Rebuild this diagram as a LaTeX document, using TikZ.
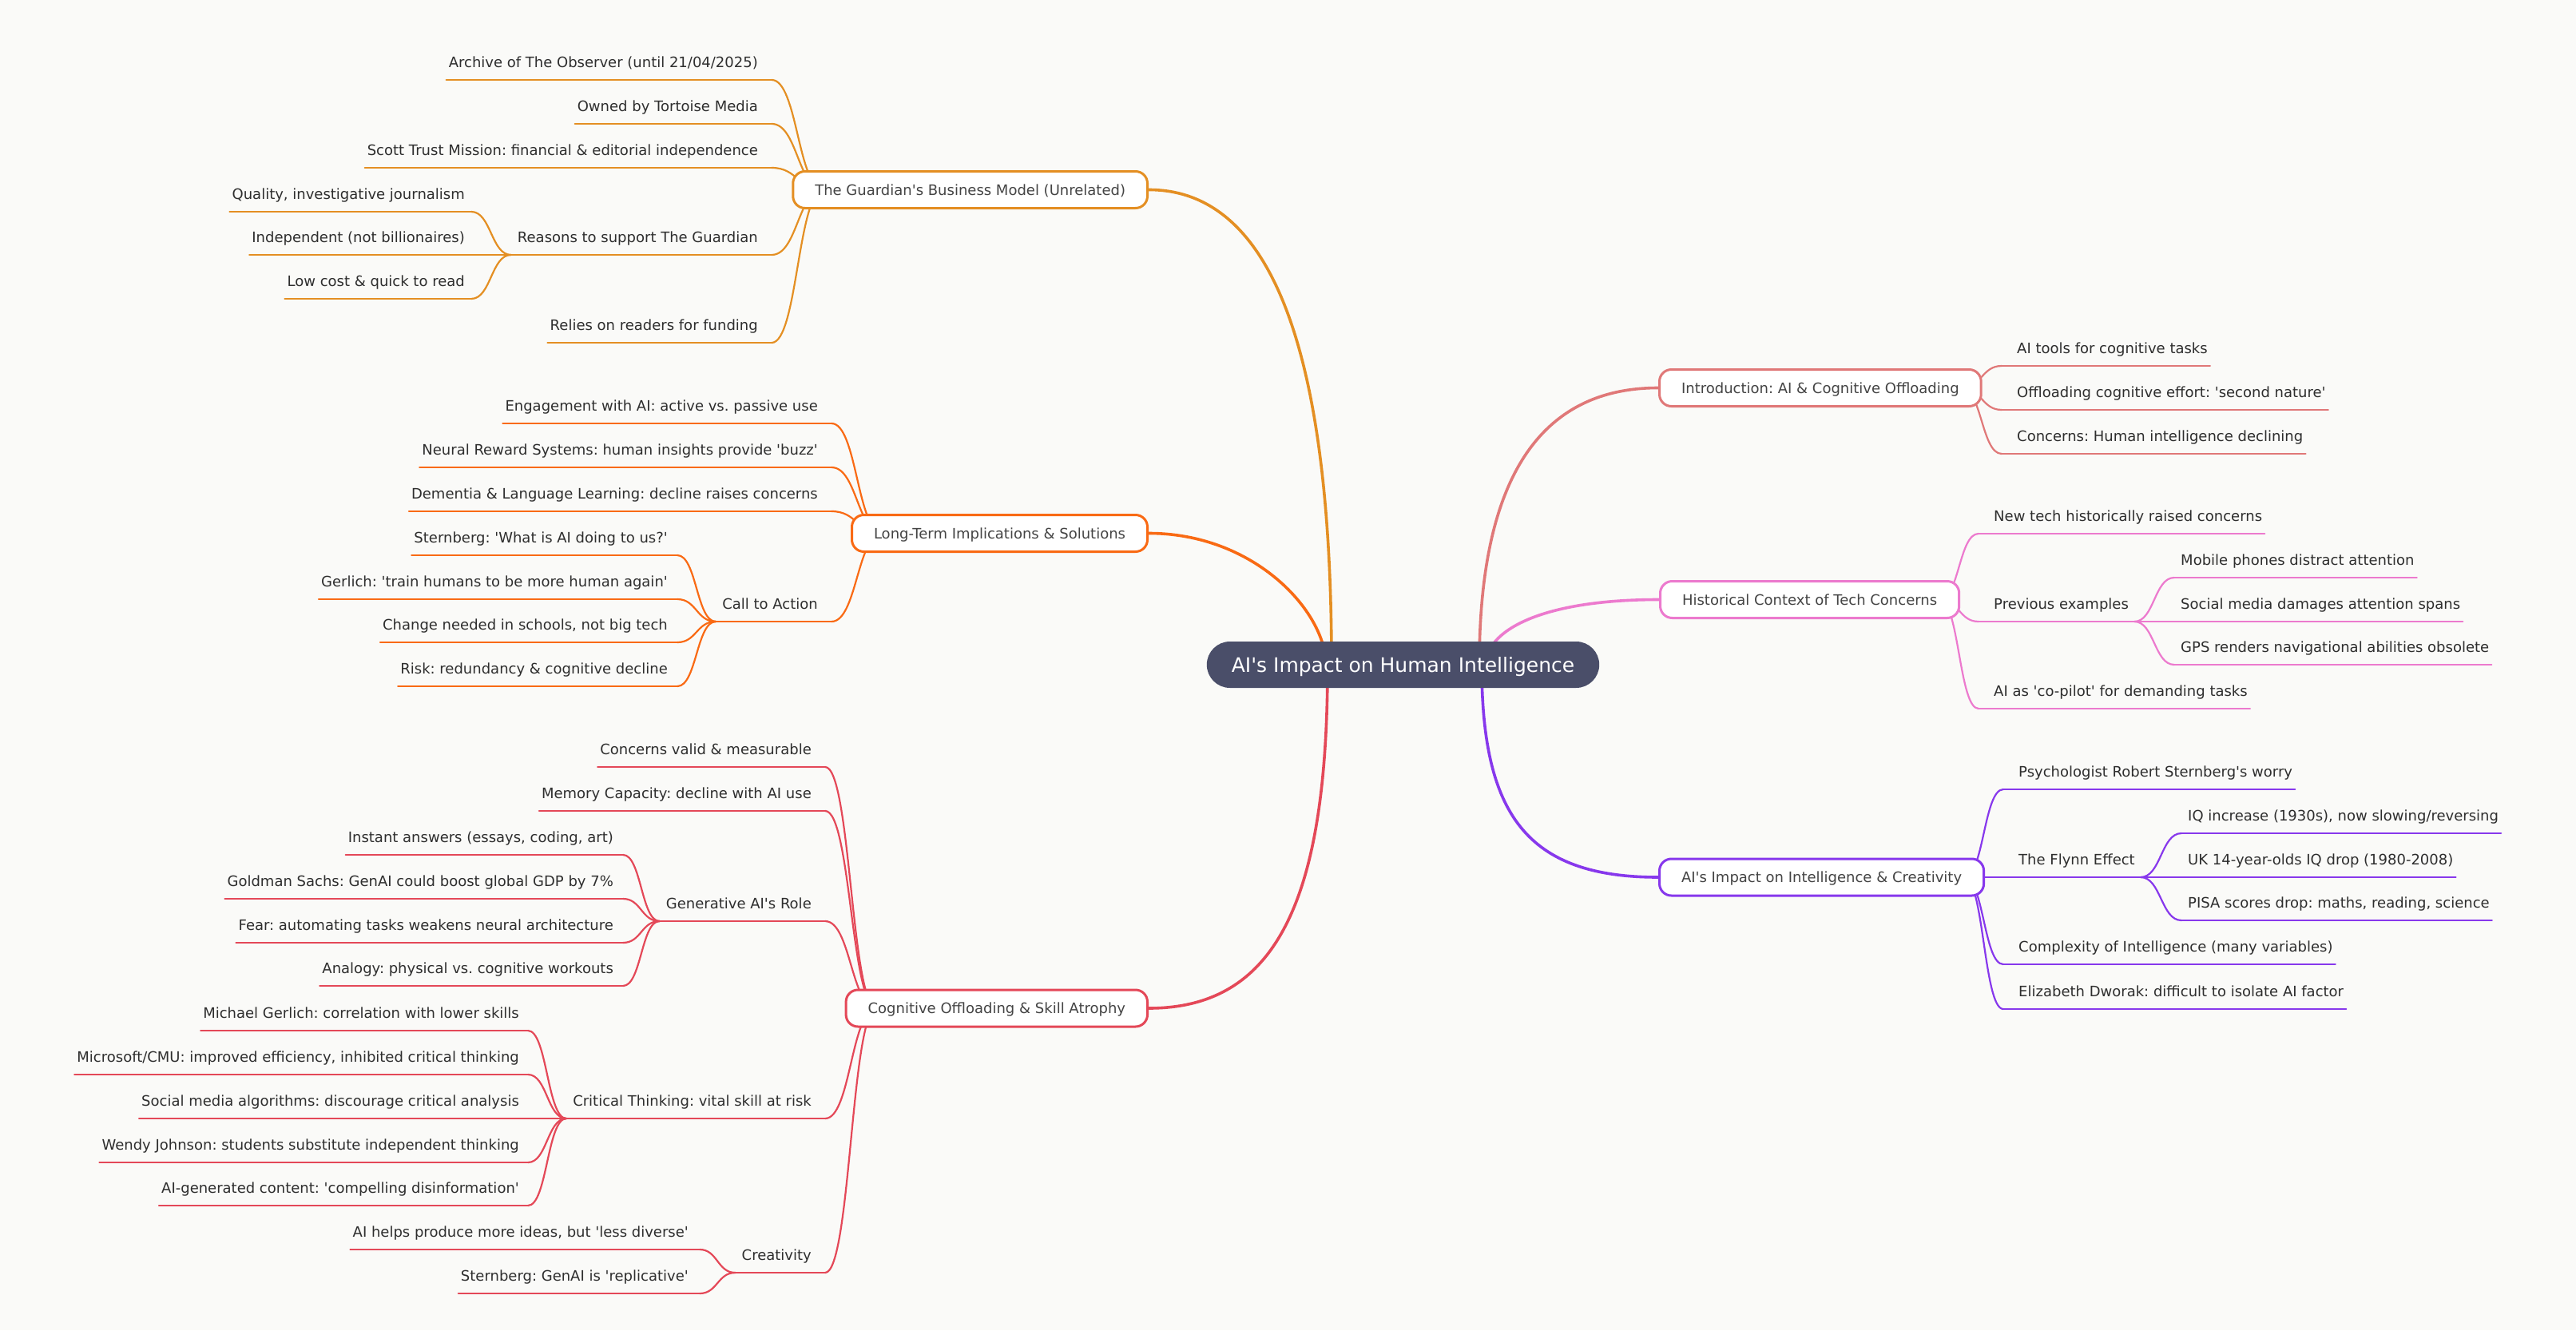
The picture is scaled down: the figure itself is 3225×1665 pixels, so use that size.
\documentclass[tikz,border=0pt]{standalone}
\usepackage{fontspec}
\newfontfamily\dejavu{DejaVu Sans}
\usetikzlibrary{calc}
\definecolor{bgcol}{HTML}{FAFAF8}
\definecolor{rootcol}{HTML}{4A4E69}
\definecolor{gcol}{HTML}{E48F23}
\definecolor{lcol}{HTML}{F96A14}
\definecolor{ccol}{HTML}{E44858}
\definecolor{icol}{HTML}{E07878}
\definecolor{hcol}{HTML}{EC7ACE}
\definecolor{acol}{HTML}{8738EC}
\definecolor{leaftext}{HTML}{2E2E2E}
\definecolor{branchtext}{HTML}{444444}
\pgfdeclarelayer{bg}
\pgfdeclarelayer{lk}
\pgfsetlayers{bg,lk,main}
\frenchspacing
\tikzset{
  leaf/.style={inner sep=0pt, font=\dejavu\fontsize{18}{22}\selectfont\frenchspacing, text=leaftext},
  branch/.style={draw=#1, line width=3pt, fill=white, rounded corners=15pt,
    minimum height=46pt, inner xsep=27.5pt, inner ysep=0pt, text height=13pt, text depth=0pt,
    text=branchtext, font=\dejavu\fontsize{18}{22}\selectfont\frenchspacing},
  rootnode/.style={fill=rootcol, rounded corners=29pt, minimum height=58pt, inner xsep=31pt,
    inner ysep=0pt, text height=18.2pt, text depth=0pt, text=white,
    font=\dejavu\fontsize{25}{30}\selectfont\frenchspacing},
  leafline/.style={line width=2.2pt, line cap=round, line join=round},
  rootline/.style={line width=3.6pt, line cap=round},
}
% root-to-branch link: vertical at root, horizontal at branch
\newcommand\rlink[5]{\draw[rootline,#1] let \p1=(#2), \p2=(#3) in (\p1) .. controls (\x1,{\y1+#4*(\y2-\y1)}) and ({\x2-#5*(\x2-\x1)},\y2) .. (\p2);}
% horizontal S-link
\newcommand\hlink[3]{\draw[leafline,#1] let \p1=(#2), \p2=(#3) in (\p1) .. controls ({0.5*(\x1+\x2)},\y1) and ({0.5*(\x1+\x2)},\y2) .. (\p2);}
% left leaf: name, colour, source, line x, text right x, line y, text
\newcommand\leafL[7]{%
  \coordinate (#1-a) at (#4,#6);
  \node[leaf,anchor=base east] (#1) at (#5,#6-16) {#7};
  \begin{pgfonlayer}{lk}
  \hlink{#2}{#3}{#1-a}
  \draw[leafline,#2] (#1-a) -- (#1.west |- #1-a) -- ++(-3,0);
  \end{pgfonlayer}}
\newcommand\midL[7]{%
  \coordinate (#1-a) at (#4,#6);
  \node[leaf,anchor=base east] (#1) at (#5,#6-16) {#7};
  \path (#1.west |- #1-a) ++(-8,0) coordinate (#1-b);
  \begin{pgfonlayer}{lk}
  \hlink{#2}{#3}{#1-a}
  \draw[leafline,#2] (#1-a) -- (#1-b);
  \end{pgfonlayer}}
\newcommand\leafR[7]{%
  \coordinate (#1-a) at (#4,#6);
  \node[leaf,anchor=base west] (#1) at (#5,#6-16) {#7};
  \begin{pgfonlayer}{lk}
  \hlink{#2}{#3}{#1-a}
  \draw[leafline,#2] (#1-a) -- (#1.east |- #1-a) -- ++(3,0);
  \end{pgfonlayer}}
\newcommand\midR[7]{%
  \coordinate (#1-a) at (#4,#6);
  \node[leaf,anchor=base west] (#1) at (#5,#6-16) {#7};
  \path (#1.east |- #1-a) ++(7,0) coordinate (#1-b);
  \begin{pgfonlayer}{lk}
  \hlink{#2}{#3}{#1-a}
  \draw[leafline,#2] (#1-a) -- (#1-b);
  \end{pgfonlayer}}
\begin{document}
\begin{tikzpicture}[x=1pt,y=-1pt]
\begin{pgfonlayer}{bg}
\fill[bgcol] (0,0) rectangle (3225,1665);
\end{pgfonlayer}
\useasboundingbox (0,0) rectangle (3225,1665);

\node[rootnode] (root) at (1756.5,832) {AI's Impact on Human Intelligence};

\node[branch=gcol, anchor=east] (G) at (1438,237.5) {The Guardian's Business Model (Unrelated)};
\node[branch=lcol, anchor=east] (L) at (1438,667.5) {Long-Term Implications \& Solutions};
\node[branch=ccol, anchor=east] (C) at (1438,1262) {Cognitive Offloading \& Skill Atrophy};
\node[branch=icol, anchor=west] (I) at (2076,485.5) {Introduction: AI \& Cognitive Offloading};
\node[branch=hcol, anchor=west] (H) at (2077,750.5) {Historical Context of Tech Concerns};
\node[branch=acol, anchor=west] (A) at (2076,1098) {AI's Impact on Intelligence \& Creativity};

\coordinate (rG) at (1667,832);
\coordinate (rL) at (1660,832);
\coordinate (rC) at (1662,832);
\coordinate (rI) at (1852,832);
\coordinate (rH) at (1860,832);
\coordinate (rA) at (1855,832);

\begin{pgfonlayer}{lk}
\rlink{gcol}{rG}{G.east}{0.667}{0.667}
\rlink{lcol}{rL}{L.east}{0.4}{0.6}
\rlink{ccol}{rC}{C.east}{0.7}{0.7}
\rlink{icol}{rI}{I.west}{0.667}{0.667}
\rlink{hcol}{rH}{H.west}{0.5}{0.7}
\rlink{acol}{rA}{A.west}{0.7}{0.75}
\end{pgfonlayer}

\path (G.west) ++(40,0) coordinate (Gs);
\path (L.west) ++(40,0) coordinate (Ls);
\path (C.west) ++(40,0) coordinate (Cs);
\path (I.east) ++(-26,0) coordinate (Is);
\path (H.east) ++(-26,0) coordinate (Hs);
\path (A.east) ++(-26,0) coordinate (As);

% The Guardian
\leafL{g1}{gcol}{Gs}{966}{949}{100}{Archive of The Observer (until 21/04/2025)}
\leafL{g2}{gcol}{Gs}{966}{949}{155}{Owned by Tortoise Media}
\leafL{g3}{gcol}{Gs}{966}{949}{210}{Scott Trust Mission: financial \& editorial independence}
\midL{g4}{gcol}{Gs}{966}{949}{319}{Reasons to support The Guardian}
\leafL{g41}{gcol}{g4-b}{590}{582}{265}{Quality, investigative journalism}
\leafL{g42}{gcol}{g4-b}{590}{582}{319}{Independent (not billionaires)}
\leafL{g43}{gcol}{g4-b}{590}{582}{374}{Low cost \& quick to read}
\leafL{g5}{gcol}{Gs}{966}{949}{429}{Relies on readers for funding}

% Long-term
\leafL{l1}{lcol}{Ls}{1041}{1024}{530}{Engagement with AI: active vs. passive use}
\leafL{l2}{lcol}{Ls}{1041}{1024}{585}{Neural Reward Systems: human insights provide 'buzz'}
\leafL{l3}{lcol}{Ls}{1041}{1024}{640}{Dementia \& Language Learning: decline raises concerns}
\midL{l4}{lcol}{Ls}{1041}{1024}{778}{Call to Action}
\leafL{l41}{lcol}{l4-b}{848}{836}{695}{Sternberg: 'What is AI doing to us?'}
\leafL{l42}{lcol}{l4-b}{848}{836}{750}{Gerlich: 'train humans to be more human again'}
\leafL{l43}{lcol}{l4-b}{848}{836}{804}{Change needed in schools, not big tech}
\leafL{l44}{lcol}{l4-b}{848}{836}{859}{Risk: redundancy \& cognitive decline}

% Cognitive
\leafL{c1}{ccol}{Cs}{1033}{1016}{960}{Concerns valid \& measurable}
\leafL{c2}{ccol}{Cs}{1033}{1016}{1015}{Memory Capacity: decline with AI use}
\midL{c3}{ccol}{Cs}{1033}{1016}{1153}{Generative AI's Role}
\leafL{c31}{ccol}{c3-b}{780}{768}{1070}{Instant answers (essays, coding, art)}
\leafL{c32}{ccol}{c3-b}{780}{768}{1125}{Goldman Sachs: GenAI could boost global GDP by 7\%}
\leafL{c33}{ccol}{c3-b}{780}{768}{1180}{Fear: automating tasks weakens neural architecture}
\leafL{c34}{ccol}{c3-b}{780}{768}{1234}{Analogy: physical vs. cognitive workouts}
\midL{c4}{ccol}{Cs}{1033}{1016}{1400}{Critical Thinking: vital skill at risk}
\leafL{c41}{ccol}{c4-b}{661}{650}{1290}{Michael Gerlich: correlation with lower skills}
\leafL{c42}{ccol}{c4-b}{661}{650}{1345}{Microsoft/CMU: improved efficiency, inhibited critical thinking}
\leafL{c43}{ccol}{c4-b}{661}{650}{1400}{Social media algorithms: discourage critical analysis}
\leafL{c44}{ccol}{c4-b}{661}{650}{1455}{Wendy Johnson: students substitute independent thinking}
\leafL{c45}{ccol}{c4-b}{661}{650}{1509}{AI-generated content: 'compelling disinformation'}
\midL{c5}{ccol}{Cs}{1033}{1016}{1593}{Creativity}
\leafL{c51}{ccol}{c5-b}{876}{862}{1564}{AI helps produce more ideas, but 'less diverse'}
\leafL{c52}{ccol}{c5-b}{876}{862}{1619}{Sternberg: GenAI is 'replicative'}

% Introduction
\leafR{i1}{icol}{Is}{2506}{2525}{458}{AI tools for cognitive tasks}
\leafR{i2}{icol}{Is}{2506}{2525}{513}{Offloading cognitive effort: 'second nature'}
\leafR{i3}{icol}{Is}{2506}{2525}{568}{Concerns: Human intelligence declining}

% Historical context
\leafR{h1}{hcol}{Hs}{2477}{2496}{668}{New tech historically raised concerns}
\midR{h2}{hcol}{Hs}{2477}{2496}{778}{Previous examples}
\leafR{h21}{hcol}{h2-b}{2722}{2730}{723}{Mobile phones distract attention}
\leafR{h22}{hcol}{h2-b}{2722}{2730}{778}{Social media damages attention spans}
\leafR{h23}{hcol}{h2-b}{2722}{2730}{832}{GPS renders navigational abilities obsolete}
\leafR{h3}{hcol}{Hs}{2477}{2496}{887}{AI as 'co-pilot' for demanding tasks}

% AI's impact
\leafR{a1}{acol}{As}{2508}{2527}{988}{Psychologist Robert Sternberg's worry}
\midR{a2}{acol}{As}{2508}{2527}{1098}{The Flynn Effect}
\leafR{a21}{acol}{a2-b}{2731}{2739}{1043}{IQ increase (1930s), now slowing/reversing}
\leafR{a22}{acol}{a2-b}{2731}{2739}{1098}{UK 14-year-olds IQ drop (1980-2008)}
\leafR{a23}{acol}{a2-b}{2731}{2739}{1152}{PISA scores drop: maths, reading, science}
\leafR{a3}{acol}{As}{2508}{2527}{1207}{Complexity of Intelligence (many variables)}
\leafR{a4}{acol}{As}{2508}{2527}{1263}{Elizabeth Dworak: difficult to isolate AI factor}
\end{tikzpicture}
\end{document}
